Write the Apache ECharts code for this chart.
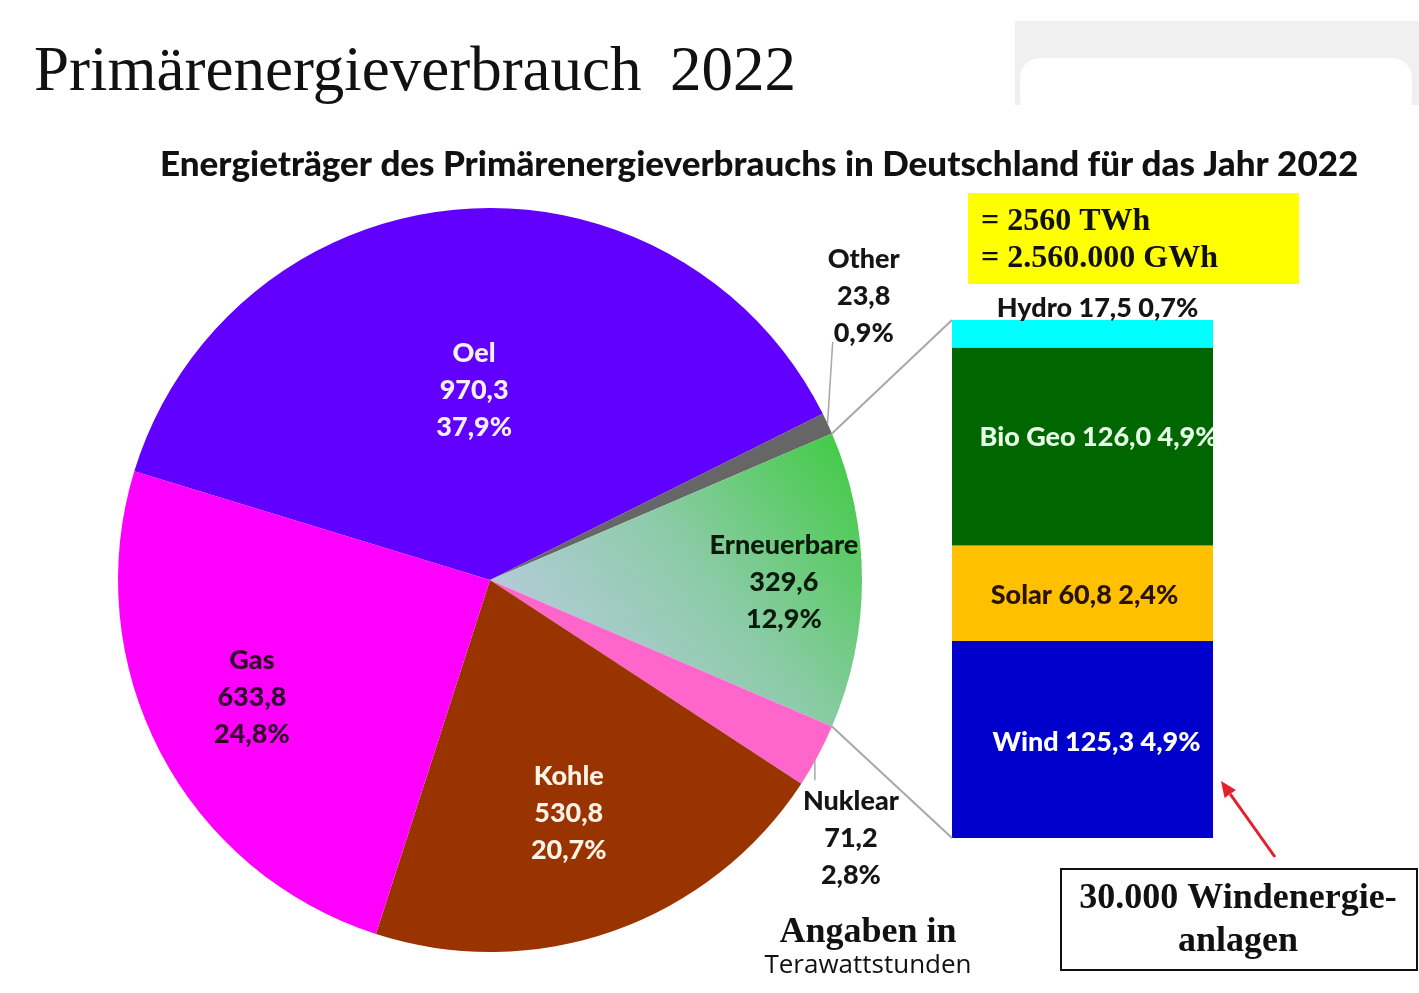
<!DOCTYPE html>
<html>
<head>
<meta charset="utf-8">
<script src="https://cdn.jsdelivr.net/npm/echarts@6/dist/echarts.min.js"></script>
<style>
html,body{margin:0;padding:0;background:#fff;}
#chart{width:1419px;height:993px;}
</style>
</head>
<body>
<div id="chart"></div>
<script>
// ---- data ----
const categories = ['Oel', 'Other', 'Erneuerbare', 'Nuklear', 'Kohle', 'Gas'];
const values = [970.3, 23.8, 329.6, 71.2, 530.8, 633.8];
const shares = ['37,9%', '0,9%', '12,9%', '2,8%', '20,7%', '24,8%'];
const renewCategories = ['Wind', 'Solar', 'Bio Geo', 'Hydro'];
const renewValues = [125.3, 60.8, 126.0, 17.5];
const renewShares = ['4,9%', '2,4%', '4,9%', '0,7%'];
const totalLines = ['= 2560 TWh', '= 2.560.000 GWh'];
const noteLines = ['30.000 Windenergie-', 'anlagen'];

// ---- styles ----
const pieColors = ['#6200FF', '#666666', null, '#FF66CC', '#993300', '#FF00FF'];
const pieLabelColors = ['#F4F0FF', '#151515', '#0C1A0C', '#151515', '#FFF2E6', '#33002E'];
const labelPolar = [[0.513, 0], [1.262, 12.4], [0.79, -0.4], [1.193, -7.4], [0.661, -0.8], [0.713, -1.4]];
const renewColors = ['#0000CC', '#FFC000', '#006600', '#00FFFF'];
const renewLabelColors = ['#FFFFFF', '#2A1200', '#E6FFE6', '#151515'];
const renewLabelOffsets = [[14, 3], [2, 2], [16, -9], [15, 2]];
const CX = 490, CY = 580, R = 372, START = 163;
const SANS = 'Lato';
const SERIF = 'Liberation Serif';

const fmt = v => v.toFixed(1).replace('.', ',');
const total = values.reduce((a, b) => a + b, 0);
const renewTotal = renewValues.reduce((a, b) => a + b, 0);

// angles (deg, counterclockwise from +x) for each slice, clockwise from START
const sliceAngles = [];
let acc = START;
values.forEach(v => {
  const span = v / total * 360;
  sliceAngles.push({ start: acc, end: acc - span, mid: acc - span / 2 });
  acc -= span;
});
const polar = (r, deg) => [CX + r * Math.cos(deg * Math.PI / 180), CY - r * Math.sin(deg * Math.PI / 180)];
const labelPos = values.map((v, i) => polar(R * labelPolar[i][0], sliceAngles[i].mid + labelPolar[i][1]));

const chart = echarts.init(document.getElementById('chart'));

const renewGradient = new echarts.graphic.LinearGradient(1, 0, 0, 1, [
  { offset: 0, color: '#3CCB3C' },
  { offset: 0.45, color: '#8CCBA8' },
  { offset: 1, color: '#C6CCF0' }
]);

const option = {
  backgroundColor: '#ffffff',
  animation: false,
  title: [
    {
      text: 'Primärenergieverbrauch \u2009' + '2022',
      left: 29, top: 37,
      textStyle: { fontFamily: SERIF, fontSize: 63, fontWeight: 'normal', color: '#111' }
    },
    {
      text: 'Energieträger des Primärenergieverbrauchs in Deutschland für das Jahr 2022',
      left: 155, top: 142,
      textStyle: { fontFamily: SANS, fontSize: 35, fontWeight: 900, color: '#111' }
    }
  ],
  grid: { left: 952, top: 320, width: 261, height: 518 },
  xAxis: { type: 'category', data: ['Erneuerbare'], show: false },
  yAxis: { type: 'value', min: 0, max: renewTotal, show: false },
  series: [
    {
      type: 'pie',
      center: [CX, CY],
      radius: R,
      startAngle: START,
      clockwise: true,
      avoidLabelOverlap: false,
      silent: true,
      data: categories.map((c, i) => ({
        name: c,
        value: values[i],
        itemStyle: { color: i === 2 ? renewGradient : pieColors[i] },
        label: { color: pieLabelColors[i], position: (i === 1 || i === 3) ? 'outside' : 'inside' }
      })),
      label: {
        show: true,
        formatter: p => p.name + '\n' + fmt(p.value) + '\n' + shares[p.dataIndex],
        fontFamily: SANS, fontWeight: 900, fontSize: 27, lineHeight: 37, align: 'center'
      },
      labelLine: { show: false },
      labelLayout: params => ({
        x: labelPos[params.dataIndex][0],
        y: labelPos[params.dataIndex][1],
        align: 'center',
        verticalAlign: 'middle'
      })
    }
  ].concat(renewCategories.map((c, i) => ({
    type: 'bar',
    name: c,
    stack: 'renew',
    barWidth: '100%',
    silent: true,
    data: [renewValues[i]],
    itemStyle: { color: renewColors[i] },
    label: {
      show: true,
      position: i === 3 ? 'top' : 'inside',
      distance: 0,
      offset: renewLabelOffsets[i],
      formatter: () => c + ' ' + fmt(renewValues[i]) + ' ' + renewShares[i],
      fontFamily: SANS, fontWeight: 900, fontSize: 27,
      color: renewLabelColors[i]
    }
  })))
};
chart.setOption(option);

// ---- annotations computed from the layout ----
const gridRect = chart.getModel().getComponent('grid', 0).coordinateSystem.getRect();
const barTop = chart.convertToPixel({ yAxisIndex: 0 }, renewTotal);
const barBottom = chart.convertToPixel({ yAxisIndex: 0 }, 0);
const pUpper = polar(R, sliceAngles[2].start);
const pLower = polar(R, sliceAngles[2].end);
const otherEdge = polar(R, sliceAngles[1].mid);
const nukEdge = polar(R, sliceAngles[3].mid);

const lineStyle = { stroke: '#A8A8A8', lineWidth: 2 };
const arrowFrom = [1275, 857], arrowTo = [1221, 781];
const ang = Math.atan2(arrowTo[1] - arrowFrom[1], arrowTo[0] - arrowFrom[0]);
const ah = 16, aw = 7;
const baseX = arrowTo[0] - ah * Math.cos(ang), baseY = arrowTo[1] - ah * Math.sin(ang);
const arrowHead = [
  arrowTo,
  [baseX + aw * Math.sin(ang), baseY - aw * Math.cos(ang)],
  [baseX - aw * Math.sin(ang), baseY + aw * Math.cos(ang)]
];

chart.setOption({
  graphic: [
    // faint grey patch at top right
    { type: 'rect', shape: { x: 1015, y: 21, width: 404, height: 84 }, style: { fill: '#F0F0F0' }, z: -10 },
    { type: 'rect', shape: { x: 1020, y: 58, width: 392, height: 60, r: 20 }, style: { fill: '#FFFFFF' }, z: -9 },
    // connector lines pie -> bar
    { type: 'line', shape: { x1: pUpper[0], y1: pUpper[1], x2: gridRect.x, y2: barTop }, style: lineStyle, z: 5 },
    { type: 'line', shape: { x1: pLower[0], y1: pLower[1], x2: gridRect.x, y2: barBottom }, style: lineStyle, z: 5 },
    // leader lines for outside labels
    { type: 'line', shape: { x1: otherEdge[0], y1: otherEdge[1], x2: labelPos[1][0] - 31, y2: labelPos[1][1] + 46 }, style: { stroke: '#A8A8A8', lineWidth: 1.5 }, z: 5 },
    { type: 'line', shape: { x1: nukEdge[0] - 3, y1: nukEdge[1] + 3, x2: labelPos[3][0] - 36, y2: labelPos[3][1] - 58 }, style: { stroke: '#A8A8A8', lineWidth: 1.5 }, z: 5 },
    // yellow total box
    { type: 'rect', shape: { x: 968, y: 193, width: 331, height: 91 }, style: { fill: '#FFFF00' }, z: 3 },
    { type: 'text', x: 981, y: 222, style: { text: totalLines[0], fontFamily: SERIF, fontWeight: 'bold', fontSize: 32, fill: '#111', verticalAlign: 'middle' }, z: 4 },
    { type: 'text', x: 981, y: 259, style: { text: totalLines[1], fontFamily: SERIF, fontWeight: 'bold', fontSize: 32, fill: '#111', verticalAlign: 'middle' }, z: 4 },
    // wind turbine note box
    { type: 'rect', shape: { x: 1061, y: 869, width: 356, height: 101 }, style: { fill: '#FFFFFF', stroke: '#111', lineWidth: 2 }, z: 3 },
    { type: 'text', x: 1238, y: 899, style: { text: noteLines[0], fontFamily: SERIF, fontWeight: 'bold', fontSize: 36, fill: '#111', align: 'center', verticalAlign: 'middle' }, z: 4 },
    { type: 'text', x: 1238, y: 942, style: { text: noteLines[1], fontFamily: SERIF, fontWeight: 'bold', fontSize: 36, fill: '#111', align: 'center', verticalAlign: 'middle' }, z: 4 },
    // red arrow
    { type: 'line', shape: { x1: arrowFrom[0], y1: arrowFrom[1], x2: baseX, y2: baseY }, style: { stroke: '#E5202E', lineWidth: 3 }, z: 6 },
    { type: 'polygon', shape: { points: arrowHead }, style: { fill: '#E5202E' }, z: 6 },
    // units note
    { type: 'text', x: 868, y: 933, style: { text: 'Angaben in', fontFamily: SERIF, fontWeight: 'bold', fontSize: 36, fill: '#111', align: 'center', verticalAlign: 'middle' }, z: 4 },
    { type: 'text', x: 868, y: 966, style: { text: 'Terawattstunden', fontFamily: 'Open Sans', fontWeight: 'normal', fontSize: 26, fill: '#111', align: 'center', verticalAlign: 'middle' }, z: 4 }
  ]
});
</script>
</body>
</html>
